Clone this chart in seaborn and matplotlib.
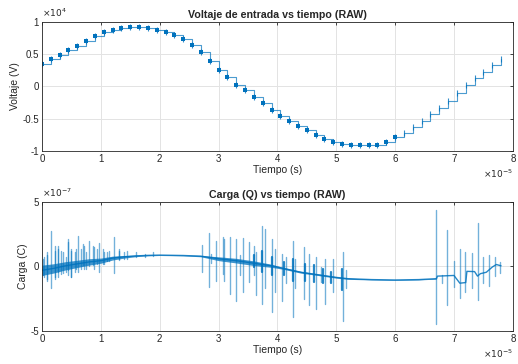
import numpy as np
import pandas as pd
import matplotlib
import seaborn as sns
import matplotlib.pyplot as plt
from matplotlib.ticker import MultipleLocator, FuncFormatter

matplotlib.use("Agg")

# tiempo en unidades de 1e-5 s, voltaje en 1e4 V, carga en 1e-7 C
volt_t = [0.00, 0.15, 0.30, 0.45, 0.60, 0.75, 0.90, 1.05, 1.20, 1.35,
          1.50, 1.65, 1.80, 1.95, 2.10, 2.25, 2.40, 2.55, 2.70, 2.85,
          3.00, 3.15, 3.30, 3.45, 3.60, 3.75, 3.90, 4.05, 4.20, 4.35,
          4.50, 4.65, 4.80, 4.95, 5.10, 5.25, 5.40, 5.55, 5.70, 5.85,
          6.00, 6.15, 6.30, 6.45, 6.60, 6.75, 6.90, 7.05, 7.20, 7.35,
          7.50, 7.65, 7.80]
volt_v = [0.34, 0.42, 0.49, 0.56, 0.63, 0.70, 0.78, 0.84, 0.88, 0.90,
          0.92, 0.92, 0.91, 0.88, 0.85, 0.80, 0.73, 0.64, 0.53, 0.40,
          0.26, 0.14, 0.03, -0.06, -0.16, -0.26, -0.36, -0.45, -0.53, -0.61,
          -0.68, -0.75, -0.81, -0.86, -0.89, -0.91, -0.91, -0.91, -0.90, -0.86,
          -0.79, -0.72, -0.63, -0.53, -0.43, -0.33, -0.22, -0.10, 0.02, 0.13,
          0.23, 0.33, 0.42]

q_base_t = [0.0, 0.2, 0.4, 0.6, 0.8, 1.0, 1.2, 1.4, 1.6, 1.8,
            2.0, 2.4, 2.7, 3.0, 3.3, 3.6, 3.9, 4.1, 4.4, 4.7,
            5.0, 5.2, 5.6, 6.0, 6.4, 6.7, 6.72, 7.0, 7.1, 7.2,
            7.22, 7.35, 7.4, 7.45, 7.55, 7.65, 7.72, 7.8]
q_base_v = [-0.3, -0.15, 0.05, 0.2, 0.35, 0.45, 0.65, 0.75, 0.82, 0.86,
            0.88, 0.85, 0.8, 0.6, 0.45, 0.25, 0.05, -0.15, -0.45, -0.65,
            -0.85, -0.95, -1.02, -1.05, -1.02, -0.95, -0.75, -0.7, -1.3, -1.25,
            -0.38, -0.4, -0.75, -0.56, -0.45, -0.05, 0.15, 0.05]
q_band = [0.4, 0.36, 0.32, 0.28, 0.25, 0.2, 0.15, 0.1, 0.06, 0.04,
          0.03, 0.03, 0.05, 0.15, 0.18, 0.18, 0.12, 0.07, 0.07, 0.06,
          0.06, 0.05, 0.03, 0.03, 0.03, 0.03, 0.0, 0.0, 0.0, 0.0,
          0.0, 0.0, 0.0, 0.0, 0.0, 0.0, 0.0, 0.0]

# picos aislados (claros)
q_spike_t = [0.02, 0.08, 0.16, 0.22, 0.28, 0.33, 0.41, 0.44, 0.50, 0.56, 0.61, 0.66,
             0.72, 0.80, 0.89, 0.97, 1.03, 1.11, 1.22, 1.31, 1.45, 1.59, 1.75, 1.89,
             0.03, 0.09, 0.22, 0.27, 0.36, 0.44, 0.50, 0.58, 0.69, 0.75, 0.86, 0.94,
             1.05, 1.14, 1.31, 1.39,
             2.72, 2.83, 2.88, 2.95, 3.07, 3.10, 3.19, 3.29, 3.37, 3.42, 3.51, 3.60,
             3.64, 3.74, 3.79, 3.90, 3.96,
             4.07, 4.15, 4.27, 4.30, 4.46, 4.53, 4.66, 4.74, 4.81, 4.94, 5.12, 5.16,
             6.70, 6.80, 6.89, 7.00, 7.10, 7.19, 7.30, 7.40, 7.50, 7.60, 7.70, 7.79]
q_spike_hi = [0.6, 1.1, 2.77, 1.2, 1.6, 1.2, 0.7, 2.15, 1.35, 1.1, 2.4, 1.35,
              1.6, 2.0, 1.5, 1.8, 1.35, 1.1, 2.25, 1.35, 1.2, 1.1, 1.0, 1.1,
              0.72, 0.85, 1.6, 1.35, 1.1, 1.9, 1.23, 1.35, 1.74, 1.1, 1.6, 1.35,
              1.1, 1.2, 1.2, 1.1,
              1.67, 2.6, 0.98, 2.0, 2.25, 2.1, 2.25, 2.1, 0.85, 2.17, 1.87, 1.6,
              1.1, 3.15, 2.9, 2.1, 1.35,
              1.0, 0.72, 2.0, 0.6, 1.5, 1.0, 0.72, -0.05, 0.6, 0.6, 1.1, -0.3,
              4.38, -0.64, 2.84, 0.4, 1.35, 1.1, 1.05, 3.4, 0.72, 0.9, 0.72, 0.38]
q_spike_lo = [-0.7, -1.1, -1.7, -0.95, -0.8, -0.55, -0.4, -0.7, -0.8, -0.4, -0.4, -0.2,
              -0.2, 0.0, -0.2, -0.4, 0.2, 0.4, -0.5, 0.5, 0.6, 0.7, 0.75, 0.8,
              -0.8, -1.0, -0.8, -0.4, -0.5, -0.3, -0.8, -0.2, 0.08, -0.2, 0.08, 0.2,
              0.2, 0.46, 0.6, 0.6,
              -0.44, -1.6, 0.3, -1.1, -0.6, -1.1, -2.1, -2.7, -0.7, -1.97, -1.2, -0.7,
              -2.2, -2.9, -1.7, -3.5, -2.0,
              -2.7, -1.3, -3.9, -1.7, -2.5, -3.0, -3.3, -1.2, -2.9, -2.0, -4.2, -1.7,
              -4.5, -1.26, -3.0, -1.6, -2.43, -2.0, -1.7, -2.6, -1.3, -1.5, -0.77, -0.5]

# rafagas densas (oscuras) alrededor de la base
q_burst_t = [3.60, 3.74, 3.90, 4.12, 4.27, 4.47, 4.63, 4.77, 4.91, 5.10]
q_burst_hi = [0.85, 1.23, 0.72, 0.33, 0.6, 0.2, 0.08, -0.18, -0.44, -0.18]
q_burst_lo = [-0.05, -0.44, -0.7, -0.7, -1.1, -1.1, -1.2, -1.3, -1.3, -1.85]

blue = "#0072BD"
dark = "#262626"

sns.set_theme(style="white")
plt.rcParams["font.family"] = ["Liberation Sans", "DejaVu Sans"]
plt.rcParams["xtick.direction"] = "in"
plt.rcParams["ytick.direction"] = "in"

df_v = pd.DataFrame({"t": volt_t, "v": volt_v})
df_qb = pd.DataFrame({"t": q_base_t, "q": q_base_v, "w": q_band})
n = len(q_spike_t)
df_qs = pd.DataFrame({"t": q_spike_t + q_spike_t,
                      "q": q_spike_hi + q_spike_lo,
                      "id": list(range(n)) + list(range(n))})
m = len(q_burst_t)
df_qr = pd.DataFrame({"t": q_burst_t + q_burst_t,
                      "q": q_burst_hi + q_burst_lo,
                      "id": list(range(m)) + list(range(m))})

fig = plt.figure(figsize=(5.18, 3.64), dpi=100)
ax1 = fig.add_axes([0.081, 0.585, 0.909, 0.355])
ax2 = fig.add_axes([0.081, 0.091, 0.909, 0.354])

# voltaje escalonado
sns.lineplot(data=df_v, x="t", y="v", ax=ax1, color=blue, lw=0.8,
             drawstyle="steps-post", alpha=0.7)
sns.scatterplot(data=df_v, x="t", y="v", ax=ax1, color=blue, marker="|",
                s=14, linewidth=0.8, alpha=0.8)
sns.scatterplot(data=df_v[df_v["t"] < 6.1], x="t", y="v", ax=ax1, color=blue,
                marker="s", s=5, linewidth=0)

# carga
ax2.fill_between(df_qb["t"], df_qb["q"] - df_qb["w"], df_qb["q"] + df_qb["w"],
                 color=blue, alpha=0.75, lw=0)
sns.lineplot(data=df_qs, x="t", y="q", units="id", estimator=None, sort=False,
             ax=ax2, color=blue, lw=1.0, alpha=0.55)
sns.lineplot(data=df_qr, x="t", y="q", units="id", estimator=None, sort=False,
             ax=ax2, color=blue, lw=1.6, alpha=0.85)
sns.lineplot(data=df_qb, x="t", y="q", ax=ax2, color=blue, lw=1.0, alpha=0.85)

fmt = FuncFormatter(lambda v, p: "%g" % v)
for ax, ylim, step, title, ylab, expo in [
        (ax1, (-1, 1), 0.5, "Voltaje de entrada vs tiempo (RAW)", "Voltaje (V)", r"$\times10^{4}$"),
        (ax2, (-5, 5), 5, "Carga (Q) vs tiempo (RAW)", "Carga (C)", r"$\times10^{-7}$")]:
    ax.set_xlim(0, 8)
    ax.set_ylim(*ylim)
    ax.xaxis.set_major_locator(MultipleLocator(1))
    ax.yaxis.set_major_locator(MultipleLocator(step))
    ax.xaxis.set_major_formatter(fmt)
    ax.yaxis.set_major_formatter(fmt)
    ax.grid(True, color="#e3e3e3", lw=0.7)
    ax.set_axisbelow(True)
    for sp in ax.spines.values():
        sp.set_color(dark)
        sp.set_linewidth(0.6)
    ax.tick_params(labelsize=7, colors=dark, length=2.5, width=0.6,
                   top=True, right=True, pad=2)
    ax.set_title(title, fontsize=7.7, fontweight="bold", color=dark, pad=3)
    ax.set_xlabel("Tiempo (s)", fontsize=7.5, color=dark, labelpad=1)
    ax.set_ylabel(ylab, fontsize=7.5, color=dark, labelpad=2)
    ax.text(0.0, 1.02, expo, transform=ax.transAxes, fontsize=6.5,
            color=dark, ha="left", va="bottom")
    ax.text(1.0, -0.13, r"$\times10^{-5}$", transform=ax.transAxes,
            fontsize=6.5, color=dark, ha="right", va="top")

fig.savefig("out.png", dpi=100, facecolor="white")
